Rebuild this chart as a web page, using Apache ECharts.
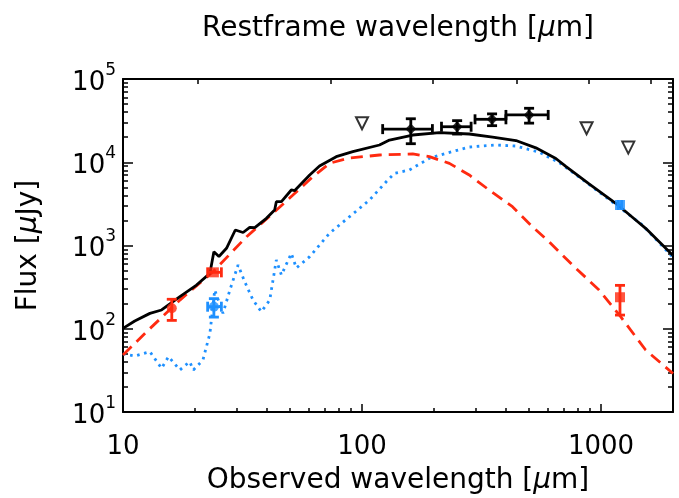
<!DOCTYPE html>
<html>
<head>
<meta charset="utf-8">
<script src="https://cdn.jsdelivr.net/npm/echarts@6/dist/echarts.min.js"></script>
<style>
  html, body { margin: 0; padding: 0; background: #fff; }
  #sedChart { width: 679px; height: 498px; }
</style>
</head>
<body>
<div id="sedChart"></div>
<script>
// observed wavelength [um] and flux [uJy]

// total model (black solid)
const totalWave = [10, 11.2, 12.96, 14.5, 17.3, 20.3, 23.1, 24.0, 25.2, 27.1, 29.5, 31.8, 33.9, 35.6, 39.8, 43.1, 43.8, 46.0, 50.6, 52.2, 60.4, 66.4, 78.0, 91.5, 118.3, 130.3, 163, 210.7, 281, 351.7, 440.5, 533.6, 647, 712, 891, 1152, 1396, 1537, 2000];
const totalFlux = [101, 124, 153, 168, 243, 335, 463, 842, 738, 925, 1535, 1432, 1655, 1637, 2122, 2670, 3357, 3357, 4645, 4550, 7030, 9020, 11670, 13400, 16110, 18500, 21240, 22650, 21840, 20080, 18240, 14900, 11100, 8900, 5500, 3213, 2023, 1609, 760];

// red dashed component
const redWave = [10, 12.56, 17.3, 23.8, 32.9, 42.4, 51.4, 62.3, 73.1, 87, 118.3, 163, 191.4, 232, 281, 340, 426, 516, 606, 759, 981, 1208, 1537, 2000];
const redFlux = [48.4, 92.2, 221, 484, 1276, 2440, 4044, 6706, 9700, 11150, 12220, 12570, 11660, 9700, 7030, 4645, 2925, 1683, 1111, 583, 292, 139.5, 55.6, 29];

// blue dotted component
const blueWave = [10, 11.2, 12.96, 14.5, 15.5, 17.3, 19.0, 19.7, 21.6, 23.1, 24.2, 26.2, 28.0, 30.3, 32.3, 35.0, 37.9, 41.1, 43.8, 46.0, 50.6, 53.1, 60.4, 73.1, 88.7, 107.5, 128.2, 136.7, 157.8, 191.4, 224.7, 281, 363, 440, 551, 668, 836, 1152, 1483, 2000];
const blueFlux = [50, 47.1, 53, 33.5, 46.2, 32, 40.2, 32, 42.1, 88, 292, 153, 292, 583, 367, 221, 160, 221, 670, 442, 805, 537, 734, 1402, 2218, 3520, 6120, 7360, 8070, 11160, 12810, 15240, 16110, 15670, 13200, 9900, 6200, 3100, 1780, 720];

// far-IR photometry (black diamonds)
const firWave = [160, 250, 350, 500];
const firWaveLo = [122, 215, 297, 400];
const firWaveHi = [197, 286, 400, 601];
const firFlux = [25000, 26700, 32800, 37000];
const firErr = [8300, 4900, 5300, 7500];

// upper limits (open triangles)
const limWave = [100, 870, 1300];
const limFlux = [29400, 25600, 15000];

// red photometry
const redPtWave = [16, 24, 1200];
const redPtWaveLo = [16, 22.6, 1200];
const redPtWaveHi = [16, 25.8, 1200];
const redPtFlux = [176, 476, 239];
const redPtErr = [50, 0, 93];
const redPtSymbol = ['circle', 'rect', 'rect'];

// blue photometry
const bluePtWave = [24, 1200];
const bluePtWaveLo = [22.6, 1180];
const bluePtWaveHi = [25.8, 1220];
const bluePtFlux = [184, 3066];
const bluePtErr = [46, 0];
const bluePtSymbol = ['circle', 'rect'];

// ticks
const xLabels = [10, 100, 1000];
const xMinorTicks = [20, 30, 40, 50, 60, 70, 80, 90, 200, 300, 400, 500, 600, 700, 800, 900, 2000];
const yMinorTicks = [20, 30, 40, 50, 60, 70, 80, 90, 200, 300, 400, 500, 600, 700, 800, 900,
  2000, 3000, 4000, 5000, 6000, 7000, 8000, 9000, 20000, 30000, 40000, 50000, 60000, 70000, 80000, 90000];
const restTicks = [20.5, 74, 197, 446, 891, 1618]; // restframe tick marks, at their observed positions

const X_MIN = 10, X_MAX = 2000, Y_MIN = 10, Y_MAX = 100000;
const RED = '#ff2a10';
const BLUE = '#1e90ff';
const FONT = 'DejaVu Sans';

function zip(a, b) {
  return a.map(function (v, i) { return [v, b[i]]; });
}

function errorRows(w, wlo, whi, f, e) {
  return w.map(function (v, i) {
    return [v, f[i], wlo[i], whi[i], f[i] - e[i], f[i] + e[i]];
  });
}

function errorBars(rows, color) {
  return {
    type: 'custom',
    xAxisIndex: 0,
    yAxisIndex: 0,
    z: 5,
    encode: { x: 0, y: 1 },
    data: rows,
    renderItem: function (params, api) {
      const x = api.value(0), y = api.value(1);
      const xlo = api.value(2), xhi = api.value(3);
      const ylo = api.value(4), yhi = api.value(5);
      const cap = 5;
      const st = { stroke: color, lineWidth: 2.8 };
      const kids = [];
      if (xhi > xlo) {
        const a = api.coord([xlo, y]), b = api.coord([xhi, y]);
        kids.push({ type: 'line', shape: { x1: a[0], y1: a[1], x2: b[0], y2: b[1] }, style: st });
        kids.push({ type: 'line', shape: { x1: a[0], y1: a[1] - cap, x2: a[0], y2: a[1] + cap }, style: st });
        kids.push({ type: 'line', shape: { x1: b[0], y1: b[1] - cap, x2: b[0], y2: b[1] + cap }, style: st });
      }
      if (yhi > ylo) {
        const c = api.coord([x, ylo]), d = api.coord([x, yhi]);
        kids.push({ type: 'line', shape: { x1: c[0], y1: c[1], x2: d[0], y2: d[1] }, style: st });
        kids.push({ type: 'line', shape: { x1: c[0] - cap, y1: c[1], x2: c[0] + cap, y2: c[1] }, style: st });
        kids.push({ type: 'line', shape: { x1: d[0] - cap, y1: d[1], x2: d[0] + cap, y2: d[1] }, style: st });
      }
      return { type: 'group', children: kids };
    }
  };
}

// tick-only overlay axis, laid out in log10 space so it lines up with the log axes
function tickAxis(pos, lo, hi, ticks, len) {
  return {
    type: 'value', position: pos,
    min: Math.log10(lo), max: Math.log10(hi),
    axisLine: { show: false },
    axisTick: { show: true, inside: true, length: len, customValues: ticks.map(Math.log10),
      lineStyle: { color: '#000', width: 1.5 } },
    axisLabel: { show: false },
    splitLine: { show: false }
  };
}

const chart = echarts.init(document.getElementById('sedChart'));

const muRich = { mu: { fontFamily: FONT, fontSize: 28, fontStyle: 'italic', color: '#000' } };
const frameLine = { show: true, lineStyle: { color: '#000', width: 2 } };
const nameStyle = { fontFamily: FONT, fontSize: 28, color: '#000', rich: muRich };

const option = {
  backgroundColor: '#fff',
  animation: false,
  grid: { left: 123, right: 6, top: 79, bottom: 86, outerBoundsMode: 'none' },
  xAxis: [{
    type: 'log', min: X_MIN, max: X_MAX, position: 'bottom',
    axisLine: frameLine,
    axisTick: { inside: true, length: 8, lineStyle: { color: '#000', width: 1.5 } },
    axisLabel: {
      fontFamily: FONT, fontSize: 26, color: '#000', margin: 22, showMaxLabel: false,
      formatter: function (v) { return xLabels.indexOf(v) >= 0 ? String(v) : ''; }
    },
    splitLine: { show: false },
    name: 'Observed wavelength [{mu|μ}m]',
    nameLocation: 'middle', nameGap: 55,
    nameTextStyle: nameStyle
  }, {
    type: 'log', min: X_MIN, max: X_MAX, position: 'top',
    axisLine: frameLine,
    axisTick: { show: false },
    axisLabel: { show: false },
    splitLine: { show: false },
    name: 'Restframe wavelength [{mu|μ}m]',
    nameLocation: 'middle', nameGap: 36,
    nameTextStyle: nameStyle
  },
  tickAxis('bottom', X_MIN, X_MAX, xMinorTicks, 4),
  tickAxis('top', X_MIN, X_MAX, restTicks, 5)
  ],
  yAxis: [{
    type: 'log', min: Y_MIN, max: Y_MAX, position: 'left',
    axisLine: frameLine,
    axisTick: { inside: true, length: 10, lineStyle: { color: '#000', width: 1.5 } },
    axisLabel: {
      margin: 7,
      formatter: function (v) {
        return '{b|10}{s|' + Math.round(Math.log10(v)) + '}';
      },
      rich: {
        b: { fontFamily: FONT, fontSize: 26, color: '#000', lineHeight: 34, verticalAlign: 'bottom' },
        s: { fontFamily: FONT, fontSize: 17, color: '#000', lineHeight: 18, verticalAlign: 'top' }
      }
    },
    splitLine: { show: false },
    name: 'Flux [{mu|μ}Jy]',
    nameLocation: 'middle', nameGap: 80,
    nameTextStyle: nameStyle
  }, {
    type: 'log', min: Y_MIN, max: Y_MAX, position: 'right',
    axisLine: frameLine,
    axisTick: { inside: true, length: 10, lineStyle: { color: '#000', width: 1.5 } },
    axisLabel: { show: false },
    splitLine: { show: false }
  },
  tickAxis('left', Y_MIN, Y_MAX, yMinorTicks, 5),
  tickAxis('right', Y_MIN, Y_MAX, yMinorTicks, 5)
  ],
  series: [{
    type: 'line', showSymbol: false, z: 2,
    data: zip(blueWave, blueFlux),
    lineStyle: { color: BLUE, width: 2.8, type: [2.6, 4.6] }
  }, {
    type: 'line', showSymbol: false, z: 3,
    data: zip(redWave, redFlux),
    lineStyle: { color: RED, width: 2.8, type: [12, 7] }
  }, {
    type: 'line', showSymbol: false, z: 4,
    data: zip(totalWave, totalFlux),
    lineStyle: { color: '#000', width: 2.8 }
  },
  errorBars(errorRows(firWave, firWaveLo, firWaveHi, firFlux, firErr), '#000'),
  errorBars(errorRows(redPtWave, redPtWaveLo, redPtWaveHi, redPtFlux, redPtErr), RED),
  errorBars(errorRows(bluePtWave, bluePtWaveLo, bluePtWaveHi, bluePtFlux, bluePtErr), BLUE),
  {
    type: 'scatter', z: 6, symbol: 'diamond', symbolSize: 11,
    data: zip(firWave, firFlux),
    itemStyle: { color: '#000' }
  }, {
    type: 'scatter', z: 6, symbol: 'triangle', symbolSize: 12, symbolRotate: 180,
    data: zip(limWave, limFlux),
    itemStyle: { color: '#fff', borderColor: '#000', borderWidth: 2 }
  }, {
    type: 'scatter', z: 6, symbolSize: 10,
    data: redPtWave.map(function (w, i) { return { value: [w, redPtFlux[i]], symbol: redPtSymbol[i] }; }),
    itemStyle: { color: RED }
  }, {
    type: 'scatter', z: 6, symbolSize: 10,
    data: bluePtWave.map(function (w, i) { return { value: [w, bluePtFlux[i]], symbol: bluePtSymbol[i] }; }),
    itemStyle: { color: BLUE }
  }]
};

chart.setOption(option);
</script>
</body>
</html>
